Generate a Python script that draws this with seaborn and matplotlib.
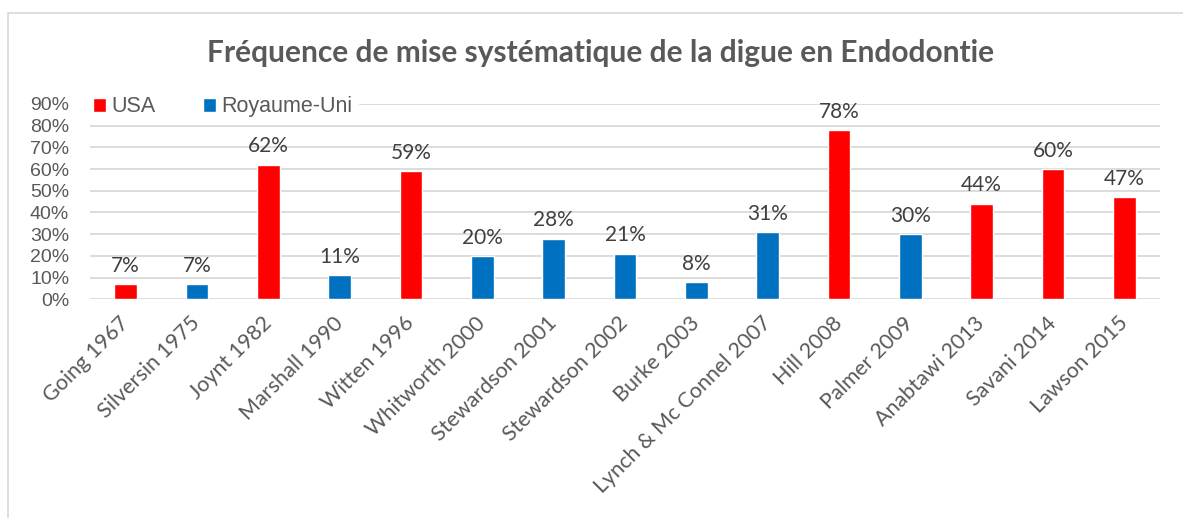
import pandas as pd
import matplotlib.pyplot as plt
import seaborn as sns
from matplotlib.patches import Rectangle

# data
studies = ['Going 1967', 'Silversin 1975', 'Joynt 1982', 'Marshall 1990', 'Witten 1996',
           'Whitworth 2000', 'Stewardson 2001', 'Stewardson 2002', 'Burke 2003',
           'Lynch & Mc Connel 2007', 'Hill 2008', 'Palmer 2009', 'Anabtawi 2013',
           'Savani 2014', 'Lawson 2015']
rates = [0.07, 0.07, 0.62, 0.11, 0.59, 0.20, 0.28, 0.21, 0.08, 0.31, 0.78, 0.30, 0.44, 0.60, 0.47]
countries = ['USA', 'Royaume-Uni', 'USA', 'Royaume-Uni', 'USA', 'Royaume-Uni', 'Royaume-Uni',
             'Royaume-Uni', 'Royaume-Uni', 'Royaume-Uni', 'USA', 'Royaume-Uni', 'USA', 'USA', 'USA']
country_order = ['USA', 'Royaume-Uni']
country_colors = {'USA': '#FF0000', 'Royaume-Uni': '#0070C0'}

df = pd.DataFrame({'study': studies, 'rate': rates, 'country': countries})

sns.set_theme(style='white')
plt.rcParams['font.family'] = ['Lato', 'DejaVu Sans']

fig = plt.figure(figsize=(11.83, 5.18), dpi=100)
ax = fig.add_axes([90 / 1183, 1 - 299.3 / 518, (1160 - 90) / 1183, (299.3 - 104) / 518])

sns.barplot(data=df, x='study', y='rate', hue='country', hue_order=country_order,
            palette=country_colors, dodge=False, width=0.32, saturation=1, ax=ax)

ax.set_ylim(0, 0.9)
ax.set_xlim(-0.5, len(studies) - 0.5)
ax.set_yticks([i / 10 for i in range(10)])
ax.set_yticklabels([f'{i * 10}%' for i in range(10)], family='Liberation Sans',
                   fontsize=14, color='#595959')
ax.grid(axis='y', color='#D9D9D9', lw=1.3)
ax.set_axisbelow(True)
for s in ax.spines.values():
    s.set_visible(False)
ax.tick_params(axis='both', length=0)
ax.tick_params(axis='y', pad=15)
ax.tick_params(axis='x', pad=15)
for lab in ax.get_xticklabels():
    lab.set_rotation(45)
    lab.set_ha('right')
    lab.set_va('center')
    lab.set_rotation_mode('anchor')
    lab.set_fontsize(15.5)
    lab.set_color('#595959')
ax.set_xlabel('')
ax.set_ylabel('')

for cont in ax.containers:
    ax.bar_label(cont, labels=[f'{v:.0%}' for v in cont.datavalues],
                 padding=6, fontsize=15, color='#404040')

handles, labels = ax.get_legend_handles_labels()
leg = ax.legend(handles, labels, loc='upper left', bbox_to_anchor=(88 / 1183, 1 - 91 / 518),
                bbox_transform=fig.transFigure, ncol=2, frameon=True, framealpha=1,
                edgecolor='white', facecolor='white', fancybox=False,
                handlelength=0.6, handleheight=0.6, handletextpad=0.25, columnspacing=2.2,
                borderpad=0.25, borderaxespad=0,
                prop={'family': 'Liberation Sans', 'size': 15.5})
for t in leg.get_texts():
    t.set_color('#595959')

fig.suptitle('Fréquence de mise systématique de la digue en Endodontie', x=0.508, y=1 - 39 / 518,
             fontsize=21.5, fontweight='bold', color='#595959')

fig.patches.append(Rectangle((8 / 1183, -0.1), 1.2, 1.1 - 13 / 518, transform=fig.transFigure,
                             fill=False, edgecolor='#D9D9D9', lw=1.2))

plt.savefig('out.png', dpi=100)
